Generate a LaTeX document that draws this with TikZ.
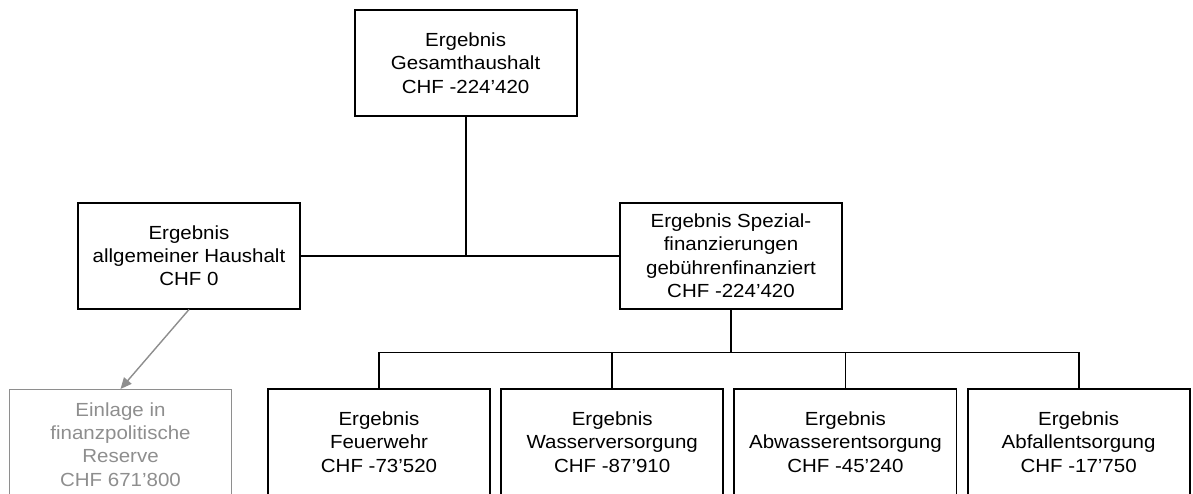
\documentclass[tikz,border=0pt]{standalone}
\usepackage{fontspec}
\setmainfont[FakeStretch=1.08]{Liberation Sans}
\usepackage{xcolor}
\usepackage{tikz}
\usetikzlibrary{arrows,arrows.meta,positioning}
\definecolor{reservegray}{HTML}{8E8E8E}

\begin{document}
\begin{tikzpicture}[node distance=5.83cm,on grid,line width=1.3pt]
        \fontsize{13.5}{16.6}\selectfont
        \tikzstyle{result_node}=[draw=black,align=center,minimum width=5.55cm,minimum height=2.65cm,inner sep=2pt]
        \tikzstyle{reserve_node}=[draw=reservegray,text=reservegray,line width=1pt,align=center,minimum width=5.55cm,inner xsep=2pt,inner ysep=9pt,anchor=north]
        \clip (0,0) rectangle (29.825,-12.325);
        \node[result_node]  (gesamt) at (11.64,-1.575)   {Ergebnis\\Gesamthaushalt\\CHF -224’420};
        \node[result_node]  (allg) [below left=4.815cm and 6.915cm of gesamt]   {Ergebnis\\allgemeiner Haushalt\\CHF 0};
        \node[result_node]  (spez) [right=13.55cm of allg]   {Ergebnis Spezial-\\finanzierungen\\gebührenfinanziert\\CHF -224’420};

    \node[reserve_node]  (reserve) at (3.0125,-9.725)   {Einlage in\\finanzpolitische\\Reserve\\CHF 671’800};

    \node[result_node]  (feuer) at (9.475,-11.05)   {Ergebnis\\Feuerwehr\\CHF -73’520};
    \node[result_node]  (wasser) [right=of feuer]   {Ergebnis\\Wasserversorgung\\CHF -87’910};
    \node[result_node]  (abwasser) [right=of wasser]   {Ergebnis\\Abwasserentsorgung\\CHF -45’240};
    \node[result_node]  (abfall) [right=of abwasser]   {Ergebnis\\Abfallentsorgung\\CHF -17’750};

    \path[-]
    (allg) edge   (spez)
    (gesamt.south) edge   (gesamt.south |- allg.east);

    \draw (spez.south) -- ++(0,-1.075) coordinate (bus);
    \draw (feuer.north) |- (bus) -| (abfall.north);
    \draw (wasser.north) -- (wasser.north |- bus);
    \draw (abwasser.north) -- (abwasser.north |- bus);

    \draw[-{Triangle[length=8pt,width=7pt]},draw=reservegray,fill=reservegray,line width=1pt] (allg.south) -- (reserve.north);

    \end{tikzpicture}
\end{document}
